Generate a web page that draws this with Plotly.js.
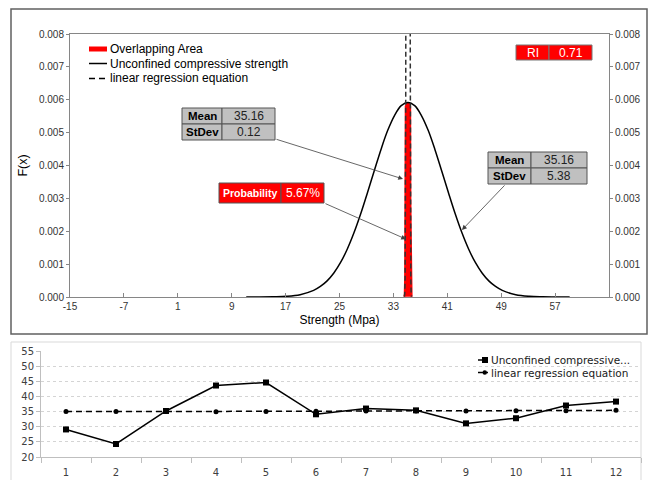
<!DOCTYPE html>
<html>
<head>
<meta charset="utf-8">
<script src="https://cdn.plot.ly/plotly-3.0.1.min.js"></script>
<style>html,body{margin:0;padding:0;background:#fff;}#chart{width:658px;height:480px;}</style>
</head>
<body>
<div id="chart"></div>
<script>
// ---- Top chart: distribution curves ----
const strengthX = [11.16, 13.16, 15.16, 17.16, 19.16, 21.16, 22.16, 23.16, 24.16, 25.16, 26.16, 27.16, 28.16, 29.16, 30.16, 31.16, 32.16, 33.16, 34.16, 35.16,
                   36.16, 37.16, 38.16, 39.16, 40.16, 41.16, 42.16, 43.16, 44.16, 45.16, 46.16, 47.16, 48.16, 49.16, 51.16, 53.16, 55.16, 57.16, 59.16];
const fxUcs = [0, 0.000001, 0.000006, 0.00002, 0.00007, 0.0002, 0.00032, 0.00049, 0.00073, 0.00105, 0.00146, 0.00196, 0.00254, 0.00318, 0.00384, 0.00449, 0.00507, 0.00552, 0.00582, 0.00592,
               0.00582, 0.00552, 0.00507, 0.00449, 0.00384, 0.00318, 0.00254, 0.00196, 0.00146, 0.00105, 0.00073, 0.00049, 0.00032, 0.0002, 0.00007, 0.00002, 0.000006, 0.000001, 0];
const regressionX = [34.62, 34.68, 34.74, 34.80, 34.83, 34.86, 34.92, 35.04, 35.16, 35.28, 35.40, 35.46, 35.49, 35.52, 35.58, 35.64, 35.70];
const fxRegression = [0.00001, 0.00009, 0.00058, 0.00294, 0.00603, 0.0116, 0.0358, 0.160, 0.2645, 0.160, 0.0358, 0.0116, 0.00603, 0.00294, 0.00058, 0.00009, 0.00001];
const overlapX = [34.62, 34.68, 34.74, 34.80, 34.83, 35.16, 35.49, 35.52, 35.58, 35.64, 35.70];
const overlapY = [0.00001, 0.00009, 0.00058, 0.00294, 0.0058, 0.00592, 0.0058, 0.00294, 0.00058, 0.00009, 0.00001];
const strengthTicks = [-15, -7, 1, 9, 17, 25, 33, 41, 49, 57];
const strengthTickText = ['-15', '-7', '1', '9', '17', '25', '33', '41', '49', '57'];
const fxTicks = [0, 0.001, 0.002, 0.003, 0.004, 0.005, 0.006, 0.007, 0.008];

// ---- Bottom chart: per-sample values ----
const samples = [1, 2, 3, 4, 5, 6, 7, 8, 9, 10, 11, 12];
const ucsValues = [29.1, 24.3, 35.2, 43.6, 44.6, 34.1, 36.0, 35.4, 31.1, 32.8, 37.0, 38.3];
const regressionValues = [35.0, 35.0, 35.1, 34.9, 35.0, 35.1, 35.2, 35.2, 35.2, 35.3, 35.3, 35.4];

// ---- labels ----
const legendTop = ['Overlapping Area', 'Unconfined compressive strength', 'linear regression equation'];
const legendBottom = ['Unconfined compressive...', 'linear regression equation'];

const W = 658, H = 480;
const PX = x => x / W;
const PY = y => 1 - y / H;
const SANS = 'Liberation Sans, Arial, sans-serif';
const DJ = 'DejaVu Sans, Verdana, sans-serif';

const traces = [
  { x: overlapX, y: overlapY, xaxis: 'x', yaxis: 'y', type: 'scatter', mode: 'lines',
    fill: 'toself', fillcolor: '#ff0000', line: { color: '#ff0000', width: 2 }, hoverinfo: 'skip', showlegend: false },
  { x: strengthX, y: fxUcs, xaxis: 'x', yaxis: 'y', type: 'scatter', mode: 'lines',
    line: { color: '#000000', width: 1.5, shape: 'spline' }, showlegend: false },
  { x: regressionX, y: fxRegression, xaxis: 'x', yaxis: 'y', type: 'scatter', mode: 'lines',
    line: { color: '#333333', width: 1.5, dash: '5px,3px' }, showlegend: false },
  { x: strengthX, y: fxUcs, xaxis: 'x', yaxis: 'y2', type: 'scatter', mode: 'lines',
    line: { color: 'rgba(0,0,0,0)', width: 0 }, hoverinfo: 'skip', showlegend: false },
  { x: samples, y: ucsValues, xaxis: 'x3', yaxis: 'y3', type: 'scatter', mode: 'lines+markers',
    line: { color: '#000000', width: 1.5 }, marker: { symbol: 'square', size: 6, color: '#000000' }, showlegend: false },
  { x: samples, y: regressionValues, xaxis: 'x3', yaxis: 'y3', type: 'scatter', mode: 'lines+markers',
    line: { color: '#000000', width: 1.5, dash: '6px,4px' }, marker: { symbol: 'circle', size: 5, color: '#000000' }, showlegend: false }
];

const shapes = [];
const annotations = [];

// panel borders
shapes.push({ type: 'rect', xref: 'paper', yref: 'paper', x0: PX(11), x1: PX(647), y0: PY(334), y1: PY(9),
  line: { color: '#606060', width: 1.5 }, fillcolor: 'rgba(0,0,0,0)', layer: 'below' });
shapes.push({ type: 'rect', xref: 'paper', yref: 'paper', x0: PX(11), x1: PX(641), y0: PY(485), y1: PY(342),
  line: { color: '#d9d9d9', width: 1 }, fillcolor: 'rgba(0,0,0,0)', layer: 'below' });

// top legend
shapes.push({ type: 'rect', xref: 'paper', yref: 'paper', x0: PX(89), x1: PX(107), y0: PY(51.5), y1: PY(46.5),
  fillcolor: '#ff0000', line: { width: 0 } });
shapes.push({ type: 'line', xref: 'paper', yref: 'paper', x0: PX(89), x1: PX(107), y0: PY(63.5), y1: PY(63.5),
  line: { color: '#000', width: 1.5 } });
shapes.push({ type: 'line', xref: 'paper', yref: 'paper', x0: PX(89), x1: PX(107), y0: PY(78.5), y1: PY(78.5),
  line: { color: '#000', width: 1.5, dash: '6px,4px' } });
[49, 63.5, 78].forEach((yy, i) => {
  annotations.push({ xref: 'paper', yref: 'paper', x: PX(108), y: PY(yy), xanchor: 'left', yanchor: 'middle',
    text: legendTop[i], showarrow: false, font: { family: SANS, size: 12, color: '#000' } });
});

// table-like cells
function cell(x0, x1, y0, y1, fill, lineColor, text, font) {
  shapes.push({ type: 'rect', xref: 'paper', yref: 'paper', x0: PX(x0), x1: PX(x1), y0: PY(y1), y1: PY(y0),
    fillcolor: fill, line: { color: lineColor, width: 1 } });
  annotations.push({ xref: 'paper', yref: 'paper', x: PX((x0 + x1) / 2), y: PY((y0 + y1) / 2),
    xanchor: 'center', yanchor: 'middle', text: text, showarrow: false, font: font });
}
const grayFill = '#c0c0c0', grayLine = '#555555';
const fBold = { family: SANS, size: 11.5, color: '#000' };
const fNum = { family: SANS, size: 12, color: '#222' };
cell(182, 222, 108, 124, grayFill, grayLine, '<b>Mean</b>', fBold);
cell(222, 275, 108, 124, grayFill, grayLine, '35.16', fNum);
cell(182, 222, 124, 140, grayFill, grayLine, '<b>StDev</b>', fBold);
cell(222, 275, 124, 140, grayFill, grayLine, '0.12', fNum);
cell(488, 531, 152, 168, grayFill, grayLine, '<b>Mean</b>', fBold);
cell(531, 587, 152, 168, grayFill, grayLine, '35.16', fNum);
cell(488, 531, 168, 184, grayFill, grayLine, '<b>StDev</b>', fBold);
cell(531, 587, 168, 184, grayFill, grayLine, '5.38', fNum);
cell(219, 281, 183, 203, '#ff0000', '#555555', '<b>Probability</b>', { family: SANS, size: 10.5, color: '#fff' });
cell(281, 324, 183, 203, '#ff0000', '#555555', '5.67%', { family: SANS, size: 12, color: '#fff' });
cell(516, 549, 45, 60, '#ff0000', '#777777', 'RI', { family: SANS, size: 12, color: '#fff' });
cell(549, 592, 45, 60, '#ff0000', '#777777', '0.71', { family: SANS, size: 12, color: '#fff' });

// arrows (tail -> head, in data coordinates)
function arrow(tx, ty, hx, hy) {
  annotations.push({ xref: 'x', yref: 'y', axref: 'x', ayref: 'y', x: hx, y: hy, ax: tx, ay: ty, text: '',
    showarrow: true, arrowhead: 2, arrowsize: 1.2, arrowwidth: 0.8, arrowcolor: '#404040', standoff: 0, startstandoff: 0 });
}
arrow(15.43, 0.00481, 34.43, 0.00359);
arrow(22.7, 0.00286, 34.87, 0.00176);
arrow(49.71, 0.00344, 43.18, 0.00204);

// bottom legend
shapes.push({ type: 'line', xref: 'paper', yref: 'paper', x0: PX(478), x1: PX(488), y0: PY(360), y1: PY(360), line: { color: '#000', width: 1.5 } });
shapes.push({ type: 'rect', xref: 'paper', yref: 'paper', x0: PX(482), x1: PX(488), y0: PY(363), y1: PY(357), fillcolor: '#000', line: { width: 0 } });
shapes.push({ type: 'line', xref: 'paper', yref: 'paper', x0: PX(478), x1: PX(488), y0: PY(372.5), y1: PY(372.5), line: { color: '#000', width: 1.5 } });
shapes.push({ type: 'circle', xref: 'paper', yref: 'paper', x0: PX(482.5), x1: PX(487), y0: PY(374.8), y1: PY(370.2), fillcolor: '#000', line: { width: 0 } });
annotations.push({ xref: 'paper', yref: 'paper', x: PX(489), y: PY(360), xanchor: 'left', yanchor: 'middle', text: legendBottom[0], showarrow: false, font: { family: DJ, size: 10.5, color: '#1a1a1a' } });
annotations.push({ xref: 'paper', yref: 'paper', x: PX(489), y: PY(372.5), xanchor: 'left', yanchor: 'middle', text: legendBottom[1], showarrow: false, font: { family: DJ, size: 10.5, color: '#1a1a1a' } });

const axisGray = '#868686';
const layout = {
  width: W, height: H,
  margin: { l: 0, r: 0, t: 0, b: 0 },
  paper_bgcolor: '#ffffff', plot_bgcolor: 'rgba(0,0,0,0)',
  showlegend: false,
  xaxis: {
    domain: [PX(70), PX(609)], anchor: 'y', range: [-15, 65], tickmode: 'array', tickvals: strengthTicks, ticktext: strengthTickText,
    showline: true, mirror: true, linecolor: axisGray, linewidth: 1, ticks: 'inside', ticklen: 4, tickcolor: axisGray,
    showgrid: false, zeroline: false, tickfont: { family: SANS, size: 10, color: '#333' },
    title: { text: 'Strength (Mpa)', font: { family: SANS, size: 12, color: '#000' }, standoff: 4 }
  },
  yaxis: {
    domain: [PY(297), PY(34)], anchor: 'x', range: [0, 0.008], tickvals: fxTicks, tickformat: '.3f',
    showline: true, linecolor: axisGray, linewidth: 1, ticks: 'outside', ticklen: 3, tickcolor: axisGray,
    showgrid: false, zeroline: false, tickfont: { family: SANS, size: 10, color: '#333' },
    title: { text: 'F(x)', font: { family: SANS, size: 12.5, color: '#000' }, standoff: 8 }
  },
  yaxis2: {
    overlaying: 'y', side: 'right', anchor: 'x', range: [0, 0.008], tickvals: fxTicks, tickformat: '.3f',
    showline: true, linecolor: axisGray, linewidth: 1, ticks: 'outside', ticklen: 3, tickcolor: axisGray,
    showgrid: false, zeroline: false, tickfont: { family: SANS, size: 10, color: '#333' }
  },
  xaxis3: {
    domain: [PX(41), PX(641)], anchor: 'y3', range: [0.5, 12.5], tickvals: samples, ticks: '',
    minor: { tickmode: 'array', tickvals: samples.map(s => s - 0.5).concat([samples[samples.length - 1] + 0.5]), ticks: 'outside', ticklen: 5, tickcolor: '#bfbfbf', showgrid: false },
    showline: true, linecolor: '#bfbfbf', linewidth: 1, showgrid: false, zeroline: false,
    tickfont: { family: DJ, size: 10, color: '#404040' }, ticklabelstandoff: 6
  },
  yaxis3: {
    domain: [PY(457), PY(351)], anchor: 'x3', range: [20, 55], dtick: 5, tick0: 20,
    showline: true, linecolor: '#bfbfbf', linewidth: 1, ticks: 'outside', ticklen: 4, tickcolor: '#bfbfbf',
    showgrid: true, gridcolor: '#d4d4d4', griddash: 'dot', gridwidth: 1, zeroline: false,
    tickfont: { family: DJ, size: 10, color: '#404040' }
  },
  shapes: shapes,
  annotations: annotations
};

Plotly.newPlot('chart', traces, layout, { displayModeBar: false, staticPlot: true });
</script>
</body>
</html>
